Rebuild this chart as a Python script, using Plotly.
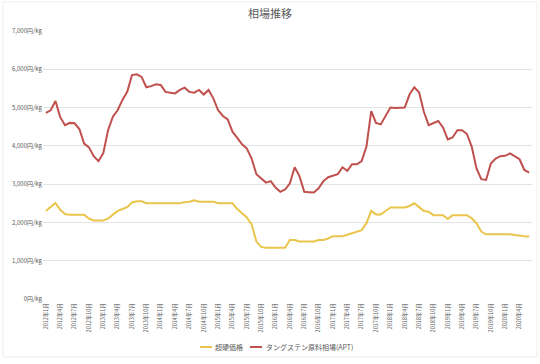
import plotly.graph_objects as go

# Months 2012年1月 .. 2020年6月
months = [f"{y}年{m}月" for y in range(2012, 2021) for m in range(1, 13)][:102]

tick_labels = [f"{y}年{m}月" for y in range(2012, 2021) for m in (1, 4, 7, 10)][:34]

series_names = ["超硬価格", "タングステン原料相場(APT)"]

carbide_price = [
    2300, 2400, 2510, 2330, 2220, 2200, 2200, 2200, 2200, 2100,
    2050, 2050, 2050, 2100, 2200, 2300, 2350, 2400, 2520, 2550,
    2550, 2500, 2500, 2500, 2500, 2500, 2500, 2500, 2500, 2530,
    2540, 2580, 2540, 2540, 2540, 2540, 2500, 2500, 2500, 2500,
    2350, 2250, 2130, 1950, 1500, 1360, 1340, 1340, 1340, 1340,
    1340, 1540, 1540, 1500, 1500, 1500, 1500, 1540, 1540, 1580,
    1640, 1640, 1640, 1680, 1720, 1760, 1800, 1980, 2300, 2210,
    2210, 2300, 2390, 2390, 2390, 2390, 2430, 2500, 2400, 2300,
    2280, 2190, 2190, 2190, 2090, 2190, 2190, 2190, 2190, 2110,
    1980, 1760, 1690, 1690, 1690, 1690, 1690, 1690, 1670, 1650,
    1640, 1630,
]

apt_price = [
    4860, 4930, 5170, 4750, 4540, 4600, 4590, 4440, 4060, 3960,
    3730, 3600, 3810, 4410, 4760, 4930, 5200, 5410, 5850, 5870,
    5800, 5530, 5560, 5610, 5590, 5410, 5390, 5370, 5460, 5520,
    5410, 5390, 5460, 5340, 5460, 5240, 4930, 4780, 4690, 4370,
    4210, 4040, 3930, 3670, 3260, 3150, 3040, 3080, 2910, 2800,
    2860, 3020, 3440, 3210, 2800, 2790, 2780, 2890, 3080, 3180,
    3210, 3260, 3440, 3350, 3520, 3520, 3600, 3980, 4910, 4600,
    4560, 4800, 5000, 4990, 5000, 5000, 5340, 5530, 5400, 4890,
    4540, 4590, 4650, 4480, 4170, 4220, 4410, 4410, 4310, 3980,
    3410, 3130, 3110, 3540, 3670, 3730, 3740, 3800, 3720, 3650,
    3370, 3300,
]

colors = ["#EAC54C", "#C0504D"]

FONT = "Noto Sans CJK JP"
W, H = 540, 364
ML, MR, MT, MB = 43, 8, 31, 65
PW, PH = W - ML - MR, H - MT - MB


def px(x):
    return (x - ML) / PW


def py(y):
    return (H - MB - y) / PH


fig = go.Figure()
for name, vals, col in zip(series_names, [carbide_price, apt_price], colors):
    fig.add_trace(go.Scatter(x=months, y=vals, mode="lines", name=name,
                             line=dict(color=col, width=2)))

fig.update_layout(
    width=W, height=H,
    margin=dict(l=ML, r=MR, t=MT, b=MB, autoexpand=False),
    paper_bgcolor="white", plot_bgcolor="white",
    font=dict(family=FONT, color="#595959", size=7),
    title=dict(text="相場推移", x=0.5, xanchor="center", y=0.962, yanchor="middle",
               font=dict(family=FONT, size=11, color="#595959")),
    showlegend=False,
    xaxis=dict(type="category", categoryorder="array", categoryarray=months,
               range=[-0.6, 101.6], tickmode="array", tickvals=tick_labels,
               ticktext=tick_labels, tickangle=-90, showgrid=False, zeroline=False,
               showline=False, ticks="", tickfont=dict(size=5.5, color="#595959"),
               ticklabelstandoff=2, automargin=False),
    yaxis=dict(range=[0, 7000], dtick=1000, tickformat=",", ticksuffix="円/kg",
               showgrid=True, gridcolor="#E3E3E3", gridwidth=1, zeroline=False,
               showline=False, ticks="", tickfont=dict(size=6, color="#595959"),
               automargin=False),
)

# chart border
fig.add_shape(type="rect", xref="paper", yref="paper", x0=px(3), x1=px(537), y0=py(357), y1=py(2),
              line=dict(color="#EDEDED", width=1), fillcolor="rgba(0,0,0,0)", layer="below")

# manual legend (compact line keys like the original)
legend_pos = [(200, 213), (250, 264)]
for name, col, (lx, tx) in zip(series_names, colors, legend_pos):
    fig.add_shape(type="line", xref="paper", yref="paper", x0=px(lx), x1=px(lx + 12),
                  y0=py(347), y1=py(347), line=dict(color=col, width=2))
    fig.add_annotation(xref="paper", yref="paper", x=px(tx), y=py(347), text=name,
                       showarrow=False, xanchor="left", yanchor="middle",
                       font=dict(family=FONT, size=7, color="#595959"))

fig.write_html("out.html", config={"displayModeBar": False},
               post_script="document.body.style.margin='0';document.body.style.padding='0';")
